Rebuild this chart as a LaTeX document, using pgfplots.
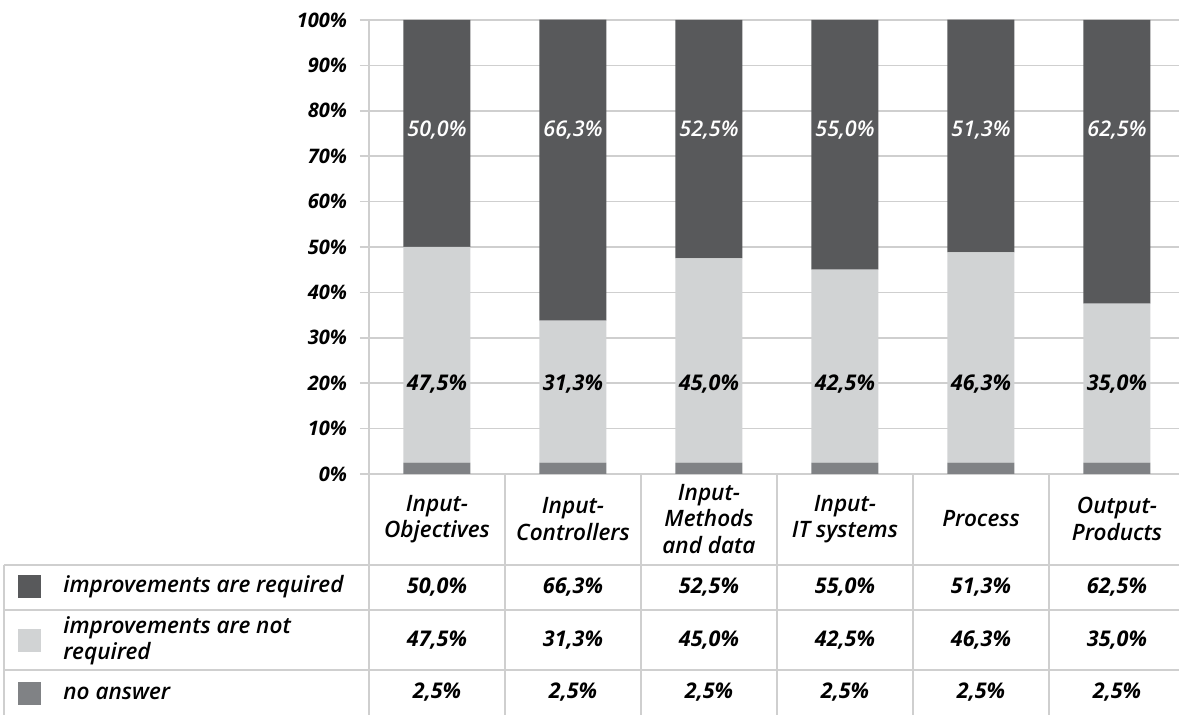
\documentclass[border=0pt]{standalone}
\usepackage{pgfplots}
\pgfplotsset{compat=1.18}
\usepackage{fontspec}
\setmainfont{Open Sans}
\IfFontExistsTF{Open Sans SemiBold}{\newfontfamily\semib{Open Sans SemiBold}\def\fontmsg{A}}{%
  \IfFontExistsTF{Open Sans Semibold}{\newfontfamily\semib{Open Sans Semibold}\def\fontmsg{B}}{%
    \newfontfamily\semib[FakeBold=0.6]{Open Sans}\def\fontmsg{C}}}
\definecolor{cdark}{HTML}{58595B}
\definecolor{clight}{HTML}{D1D3D4}
\definecolor{cmid}{HTML}{808285}
\definecolor{cgrid}{HTML}{CFCFCF}
\newcommand{\fs}{\fontsize{10}{12.5}\selectfont}
\newcommand{\ft}{\fontsize{11.3}{13.2}\selectfont\semib\itshape}
\newcommand{\fv}{\fontsize{10.8}{13}\selectfont\bfseries\itshape}
\begin{document}
\begin{tikzpicture}
\begin{axis}[
  at={(0,0)}, anchor=south west, scale only axis,
  width=408pt, height=227pt,
  xmin=-0.5, xmax=5.5, ymin=0, ymax=100,
  ybar stacked, bar width=33.5pt,
  axis x line*=bottom, axis y line*=left,
  axis line style={cgrid, line width=0.8pt},
  ytick={0,10,...,100},
  yticklabels={0\%,10\%,20\%,30\%,40\%,50\%,60\%,70\%,80\%,90\%,100\%},
  yticklabel style={font=\fs\bfseries\itshape, xshift=-3pt},
  ymajorgrids, grid style={cgrid, line width=0.8pt},
  tick align=outside, major tick length=4.5pt,
  ytick style={cgrid, line width=0.8pt},
  xtick={0,...,5}, xtick style={draw=none},
  xticklabels={{Input-\\Objectives},{Input-\\Controllers},{Input-\\Methods\\and data},{Input-\\IT systems},{Process},{Output-\\Products}},
  xticklabel style={font=\ft, align=center, anchor=center, yshift=-18pt},
  clip=false,
]
\addplot[fill=cmid, draw=none] coordinates {(0,2.5) (1,2.5) (2,2.5) (3,2.5) (4,2.5) (5,2.5)};
\addplot[fill=clight, draw=none] coordinates {(0,47.5) (1,31.3) (2,45.0) (3,42.5) (4,46.3) (5,35.0)};
\addplot[fill=cdark, draw=none] coordinates {(0,50.0) (1,66.3) (2,52.5) (3,55.0) (4,51.3) (5,62.5)};
\end{axis}
\begin{axis}[
  at={(0,0)}, anchor=south west, scale only axis,
  width=408pt, height=227pt,
  xmin=-0.5, xmax=5.5, ymin=0, ymax=100,
  hide axis, clip=false,
  nodes near coords={\pgfmathprintnumber[fixed, fixed zerofill, precision=1, use comma, assume math mode=true]{\pgfplotspointmeta}\%},
  point meta=explicit,
  every node near coord/.append style={anchor=center, font=\fv},
]
% bar labels: x, position, value
\addplot[draw=none, mark=none, every node near coord/.append style={text=white, font=\fontsize{10.8}{13}\selectfont\semib\itshape}] table[meta=v] {
x y v
0 75.8 50.0
1 75.8 66.3
2 75.8 52.5
3 75.8 55.0
4 75.8 51.3
5 75.8 62.5
};
\addplot[draw=none, mark=none, every node near coord/.append style={text=black}] table[meta=v] {
x y v
0 19.8 47.5
1 19.8 31.3
2 19.8 45.0
3 19.8 42.5
4 19.8 46.3
5 19.8 35.0
};
% table rows
\addplot[draw=none, mark=none] table[meta=v] {
x y v
0 -24.9 50.0
1 -24.9 66.3
2 -24.9 52.5
3 -24.9 55.0
4 -24.9 51.3
5 -24.9 62.5
};
\addplot[draw=none, mark=none] table[meta=v] {
x y v
0 -36.6 47.5
1 -36.6 31.3
2 -36.6 45.0
3 -36.6 42.5
4 -36.6 46.3
5 -36.6 35.0
};
\addplot[draw=none, mark=none] table[meta=v] {
x y v
0 -48.0 2.5
1 -48.0 2.5
2 -48.0 2.5
3 -48.0 2.5
4 -48.0 2.5
5 -48.0 2.5
};
\end{axis}
% table grid
\begin{scope}[cgrid, line width=0.8pt]
\foreach \k in {0,...,5} { \draw (\k*68pt,0) -- (\k*68pt,-121pt); }
\draw (-182.5pt,-45.5pt) -- (-182.5pt,-121pt);
\foreach \yy in {-45.5,-68,-98} { \draw (-182.5pt,\yy pt) -- (410pt,\yy pt); }
\end{scope}
% legend
\fill[cdark] (-175.5pt,-50.5pt) rectangle ++(11.5pt,-11.5pt);
\fill[clight] (-175.5pt,-77.5pt) rectangle ++(11.5pt,-11.5pt);
\fill[cmid] (-175.5pt,-104pt) rectangle ++(11.5pt,-11.5pt);
\node[anchor=west, font=\ft, inner sep=0pt] at (-153pt,-56.5pt) {improvements are required};
\node[anchor=west, font=\ft, inner sep=0pt, align=left] at (-153pt,-83.3pt) {improvements are not\\required};
\node[anchor=west, font=\ft, inner sep=0pt] at (-153pt,-109.5pt) {no answer};
\pgfresetboundingbox
\path[use as bounding box] (-184.5pt,-120.5pt) rectangle (405pt,237pt);
\end{tikzpicture}
\end{document}
